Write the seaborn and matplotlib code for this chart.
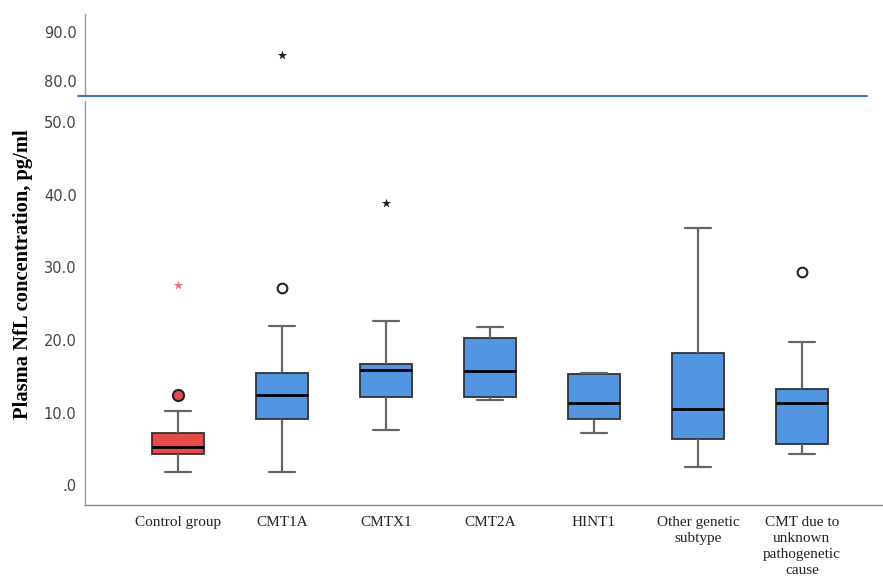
import numpy as np
import pandas as pd
import matplotlib
matplotlib.use("Agg")
import matplotlib.pyplot as plt
from matplotlib.lines import Line2D
from matplotlib.ticker import FuncFormatter, FixedLocator
import seaborn as sns

# Group labels (x axis)
groups = ["Control group", "CMT1A", "CMTX1", "CMT2A", "HINT1",
          "Other genetic\nsubtype",
          "CMT due to\nunknown\npathogenetic\ncause"]

# Five-number summaries per group (pg/ml)
whisker_low = [1.8, 1.9, 7.6, 11.8, 7.2, 2.5, 4.3]
q1 = [4.3, 9.1, 12.2, 12.2, 9.1, 6.4, 5.7]
median = [5.3, 12.5, 15.9, 15.8, 11.4, 10.5, 11.4]
q3 = [7.2, 15.4, 16.7, 20.3, 15.3, 18.2, 13.2]
whisker_high = [10.2, 21.9, 22.6, 21.8, 15.4, 35.4, 19.8]

# Outliers (circles) and extreme values (stars)
outlier_group = ["Control group", "CMT1A", groups[6]]
outlier_value = [12.5, 27.1, 29.4]
extreme_group = ["Control group", "CMTX1", "CMT1A"]
extreme_value = [27.6, 38.8, 85.2]

box_colors = ["#E84A4A"] + ["#5295E3"] * 6
red = "#E84A4A"

summary = pd.DataFrame({
    "group": np.repeat(groups, 5),
    "value": np.ravel(np.column_stack([whisker_low, q1, median, q3, whisker_high])),
})

sns.set_style("white")
plt.rcParams["font.family"] = ["DejaVu Sans"]

W, H = 883, 579
fig = plt.figure(figsize=(W / 100, H / 100), dpi=100)

left = 85 / W
right = 1.0
ax = fig.add_axes([left, 1 - 505 / H, right - left, (505 - 101) / H])
ax_top = fig.add_axes([left, 1 - 95.7 / H, right - left, (95.7 - 14) / H])

sns.boxplot(data=summary, x="group", y="value", hue="group", order=groups,
            hue_order=groups, palette=box_colors, saturation=1, legend=False,
            whis=(0, 100), width=0.5, showfliers=False, ax=ax,
            linewidth=1.3, linecolor="#333333",
            boxprops={"edgecolor": "#333333", "linewidth": 1.3},
            medianprops={"color": "black", "linewidth": 2.0},
            whiskerprops={"color": "#666666", "linewidth": 1.6},
            capprops={"color": "#666666", "linewidth": 1.6})

# Mild outliers
out = pd.DataFrame({"group": outlier_group, "value": outlier_value})
ctrl = out[out.group == "Control group"]
rest = out[out.group != "Control group"]
sns.stripplot(data=rest, x="group", y="value", order=groups, jitter=False,
              color="white", edgecolor="#222222", linewidth=1.5, size=7,
              ax=ax, zorder=5)
sns.stripplot(data=ctrl, x="group", y="value", order=groups, jitter=False,
              color=red, edgecolor="#222222", linewidth=1.5, size=8,
              ax=ax, zorder=5)

# Extreme values
ext = pd.DataFrame({"group": extreme_group, "value": extreme_value})
low_ext = ext[ext.value < 60]
high_ext = ext[ext.value >= 60]
sns.stripplot(data=low_ext[low_ext.group == "Control group"], x="group", y="value",
              order=groups, jitter=False, marker="*", color="#F07070",
              linewidth=0, size=7, ax=ax, zorder=5)
sns.stripplot(data=low_ext[low_ext.group != "Control group"], x="group", y="value",
              order=groups, jitter=False, marker="*", color="#222222",
              linewidth=0, size=7, ax=ax, zorder=5)
sns.stripplot(data=high_ext, x="group", y="value", order=groups, jitter=False,
              marker="*", color="#222222", linewidth=0, size=7, ax=ax_top,
              zorder=5)

xlim = (-0.894, 6.78)
ax.set_xlim(*xlim)
ax.set_ylim(-2.7, 52.9)
ax_top.set_xlim(*xlim)
ax_top.set_ylim(76.9, 93.7)

fmt = FuncFormatter(lambda v, p: ".0" if abs(v) < 1e-9 else f"{v:.1f}")
ax.yaxis.set_major_locator(FixedLocator([0, 10, 20, 30, 40, 50]))
ax_top.yaxis.set_major_locator(FixedLocator([80, 90]))
for a in (ax, ax_top):
    a.yaxis.set_major_formatter(fmt)
    a.tick_params(axis="y", length=0, pad=6, labelsize=10.5, labelcolor="#444444")
    for s in ("top", "right"):
        a.spines[s].set_visible(False)
    a.spines["left"].set_color("#9a9a9a")
    a.spines["left"].set_linewidth(1.0)
    a.set_xlabel("")
    a.set_ylabel("")

ax.spines["bottom"].set_color("#888888")
ax.spines["bottom"].set_linewidth(1.0)
ax.tick_params(axis="x", length=0, pad=8)
ax.set_xticks(range(len(groups)))
ax.set_xticklabels(groups, fontfamily="Liberation Serif", fontsize=11,
                   color="#222222", linespacing=1.3, va="top")

ax_top.spines["bottom"].set_visible(False)
ax_top.set_xticks([])

ax.set_ylabel("Plasma NfL concentration, pg/ml", fontfamily="Liberation Serif",
              fontweight="bold", fontsize=14.8, color="black")
ax.yaxis.set_label_coords(-52 / (W * (right - left)), (505 - 274) / 404)

# Axis-break rule between the two panels
y_break = 1 - 95.7 / H
fig.add_artist(Line2D([78 / W, 867 / W], [y_break, y_break], color="#4472C4",
                      linewidth=1.5, transform=fig.transFigure))

fig.savefig("out.png", dpi=100)
